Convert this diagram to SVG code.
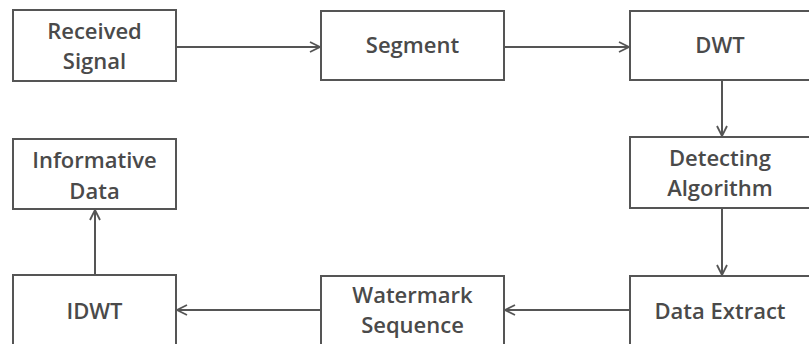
<svg xmlns="http://www.w3.org/2000/svg" width="809" height="344" viewBox="0 0 809 344">
  <style>
    .box { fill: #ffffff; stroke: #555555; stroke-width: 2; }
    .lbl { font-family: "Open Sans", Lato, "Liberation Sans", sans-serif; font-size: 22px; font-weight: 600; fill: #4a4a4a; text-anchor: middle; font-variant-ligatures: none; }
    .wire { fill: none; stroke: #555555; stroke-width: 2; }
  </style>
  <defs>
    <marker id="arrow" viewBox="0 0 12 12" refX="11" refY="6" markerWidth="12" markerHeight="12" markerUnits="userSpaceOnUse" orient="auto">
      <path d="M1,1 L11,6 L1,11" fill="none" stroke="#555555" stroke-width="1.8"/>
    </marker>
  </defs>
  <rect width="809" height="344" fill="#ffffff"/>

  <g id="connectors">
    <line class="wire" x1="176" y1="47" x2="320" y2="47" marker-end="url(#arrow)"/>
    <line class="wire" x1="504" y1="47" x2="629" y2="47" marker-end="url(#arrow)"/>
    <line class="wire" x1="722" y1="80" x2="722" y2="136" marker-end="url(#arrow)"/>
    <line class="wire" x1="722" y1="208" x2="722" y2="275" marker-end="url(#arrow)"/>
    <line class="wire" x1="630" y1="310" x2="505" y2="310" marker-end="url(#arrow)"/>
    <line class="wire" x1="321" y1="310" x2="177" y2="310" marker-end="url(#arrow)"/>
    <line class="wire" x1="95" y1="275" x2="95" y2="210" marker-end="url(#arrow)"/>
  </g>

  <g id="received-signal">
    <rect class="box" x="13" y="10" width="163" height="71"/>
    <text class="lbl" x="94.5" y="39">Received</text>
    <text class="lbl" x="94.5" y="69">Signal</text>
  </g>
  <g id="segment">
    <rect class="box" x="321" y="11" width="183" height="69"/>
    <text class="lbl" x="412.5" y="53">Segment</text>
  </g>
  <g id="dwt">
    <rect class="box" x="630" y="11" width="181" height="69"/>
    <text class="lbl" x="720" y="53">DWT</text>
  </g>
  <g id="detecting-algorithm">
    <rect class="box" x="630" y="137" width="181" height="71"/>
    <text class="lbl" x="720" y="166">Detecting</text>
    <text class="lbl" x="720" y="196">Algorithm</text>
  </g>
  <g id="data-extract">
    <rect class="box" x="630" y="276" width="181" height="72"/>
    <text class="lbl" x="720" y="319">Data Extract</text>
  </g>
  <g id="watermark-sequence">
    <rect class="box" x="321" y="276" width="183" height="72"/>
    <text class="lbl" x="412.5" y="303">Watermark</text>
    <text class="lbl" x="412.5" y="333">Sequence</text>
  </g>
  <g id="idwt">
    <rect class="box" x="13" y="275" width="163" height="73"/>
    <text class="lbl" x="94.5" y="319">IDWT</text>
  </g>
  <g id="informative-data">
    <rect class="box" x="13" y="139" width="163" height="70"/>
    <text class="lbl" x="94.5" y="168">Informative</text>
    <text class="lbl" x="94.5" y="199">Data</text>
  </g>
</svg>
